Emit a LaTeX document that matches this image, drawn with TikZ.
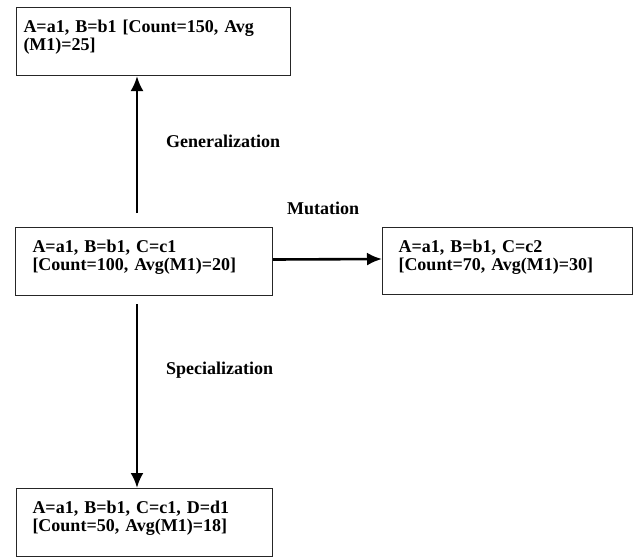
\documentclass[tikz,border=0pt]{standalone}
\usepackage{fontspec}
\setmainfont{Liberation Serif}
\usepackage{tikz}
\usetikzlibrary{positioning, arrows.meta}

\tikzset{
    box/.style={draw=black!85, line width=1pt, rectangle, anchor=north west, align=left,
        inner ysep=0pt, text height=25pt, text depth=43pt,
        font=\fontsize{18}{17.5}\selectfont\bfseries},
    arr/.style={-{Latex[length=15pt,width=13pt]}, line width=2.6pt},
    lbl/.style={anchor=base west, inner sep=0pt, font=\fontsize{18}{17.5}\selectfont\bfseries}
}

\begin{document}
\begin{tikzpicture}[x=1pt, y=-1pt]
    \useasboundingbox (0,0) rectangle (639,558);
    \node[box, inner xsep=7pt, minimum width=274pt, text width=260pt] (node_top) at (16,7)
        {A=a1, B=b1 [Count=150, Avg\\(M1)=25]};
    \node[box, inner xsep=17pt, minimum width=257pt, text width=223pt] (node_mid) at (15,227)
        {A=a1, B=b1, C=c1\\{[}Count=100, Avg(M1)=20]};
    \node[box, inner xsep=16pt, minimum width=250pt, text width=218pt, text depth=42pt] (node_right) at (382,227)
        {A=a1, B=b1, C=c2\\{[}Count=70, Avg(M1)=30]};
    \node[box, inner xsep=16pt, minimum width=256pt, text width=224pt] (node_bot) at (16,488)
        {A=a1, B=b1, C=c1, D=d1\\{[}Count=50, Avg(M1)=18]};
    \coordinate (axis) at (137,0);
    \draw[arr] ([yshift=14pt]node_mid.north -| axis) -- (node_top.south -| axis);
    \draw[arr] ([yshift=-8pt]node_mid.south -| axis) -- (node_bot.north -| axis);
    \draw[arr] ([yshift=2pt]node_mid.east) -- ([yshift=2pt]node_right.west);
    \node[lbl] (gen) at (166,147) {Generalization};
    \node[lbl] (mut) at (287,214) {Mutation};
    \node[lbl] (spec) at (166,374) {Specialization};
\end{tikzpicture}
\end{document}
